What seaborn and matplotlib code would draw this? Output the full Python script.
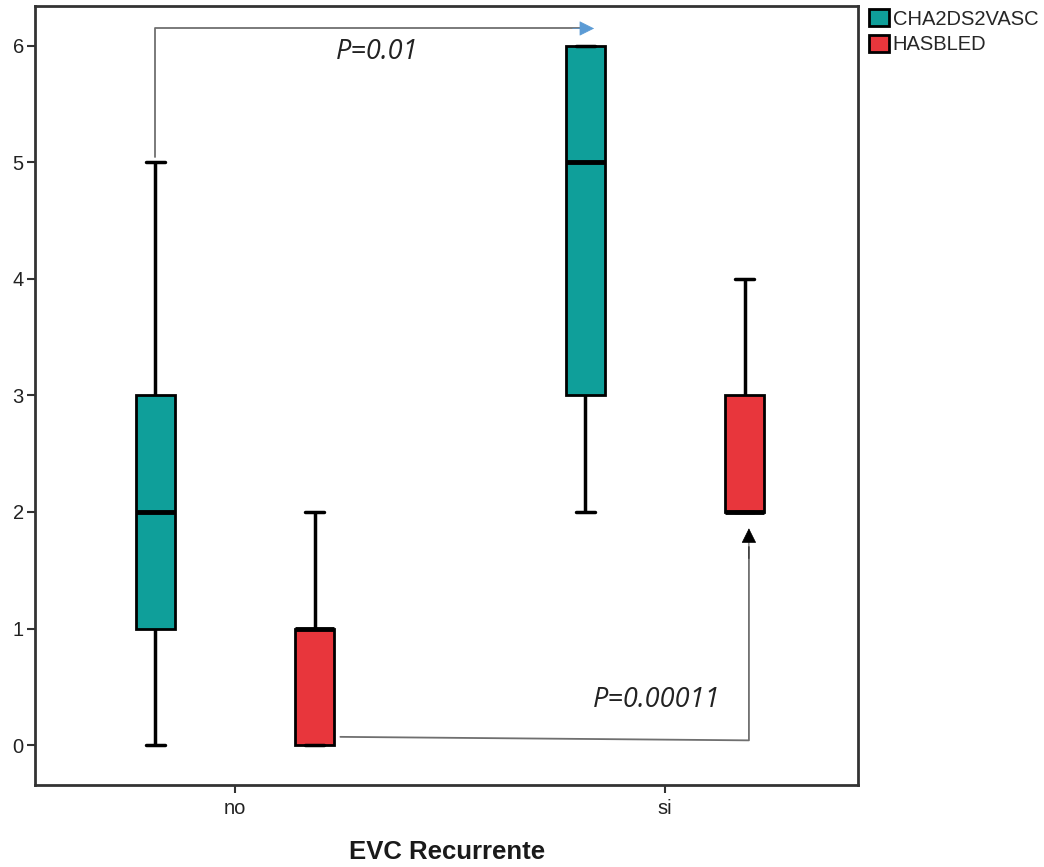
import numpy as np
import pandas as pd
import matplotlib
matplotlib.use("Agg")
import matplotlib.pyplot as plt
import seaborn as sns

# raw scores per group (chosen so quartiles/whiskers match the figure)
cha_no = [0, 1, 1, 2, 2, 2, 3, 3, 5]
has_no = [0, 0, 0, 1, 1, 1, 2]
cha_si = [2, 3, 3, 5, 5, 6, 6, 6, 6]
has_si = [2, 2, 2, 2, 3, 3, 4]

groups = ["no", "si"]
scores = ["CHA2DS2VASC", "HASBLED"]
palette = {"CHA2DS2VASC": "#0f9f9a", "HASBLED": "#e8363c"}

rows = []
for grp, score, vals in [("no", "CHA2DS2VASC", cha_no), ("no", "HASBLED", has_no),
                         ("si", "CHA2DS2VASC", cha_si), ("si", "HASBLED", has_si)]:
    for v in vals:
        rows.append({"EVC": grp, "score": score, "value": v})
df = pd.DataFrame(rows)

sns.set_style("white")
plt.rcParams["font.family"] = ["Liberation Sans", "DejaVu Sans"]

fig = plt.figure(figsize=(10.44, 8.67), dpi=100)
ax = fig.add_axes([0.0335, 0.0946, 0.7885, 0.8985])

sns.boxplot(
    data=df, x="EVC", y="value", hue="score", order=groups, hue_order=scores,
    palette=palette, width=0.74, gap=0.755, saturation=1, whis=1.5,
    linecolor="black", linewidth=2, fliersize=0, ax=ax,
    medianprops={"linewidth": 3.5},
    whiskerprops={"linewidth": 2.5},
    capprops={"linewidth": 2.5},
)

ax.set_xlim(-0.465, 1.449)
ax.set_ylim(-0.343, 6.343)
ax.set_yticks(range(7))
ax.set_xlabel("EVC Recurrente", fontsize=18.5, fontweight="bold", labelpad=16,
              color="#1a1a1a")
ax.set_ylabel("")
ax.tick_params(axis="both", labelsize=14.5, length=6, width=1.5, direction="out",
               color="#333333", labelcolor="#222222", left=True, bottom=True)
ax.tick_params(axis="y", pad=2)
ax.tick_params(axis="x", pad=4)
for s in ax.spines.values():
    s.set_color("#333333")
    s.set_linewidth(2)

# legend outside on the right
handles, labels = ax.get_legend_handles_labels()
ax.legend(handles, labels, loc="upper left", bbox_to_anchor=(1.01, 1.0),
          frameon=False, fontsize=14.5, handlelength=0.95, handleheight=0.95,
          handletextpad=0.2, labelspacing=0.3, borderaxespad=0.0,
          borderpad=0.15)

# significance annotations
off = 0.185
p_font = dict(fontsize=19.5, style="italic", family=["Open Sans", "DejaVu Sans"],
              color="#222222")
line_kw = dict(color="#6f6f6f", lw=1.3)

ax.plot([-off, -off, 1 - off], [5.05, 6.15, 6.15], **line_kw)
ax.annotate("", xy=(1 - off + 0.02, 6.15), xytext=(1 - off - 0.03, 6.15),
            arrowprops=dict(arrowstyle="-|>", lw=0.5, mutation_scale=24,
                            fc="#5b9bd5", ec="#5b9bd5", shrinkA=0, shrinkB=0))
ax.text(0.33, 5.95, "P=0.01", ha="center", va="center", **p_font)

ax.plot([off + 0.06, 1 + off + 0.01, 1 + off + 0.01], [0.07, 0.04, 1.7], **line_kw)
ax.annotate("", xy=(1 + off + 0.01, 1.86), xytext=(1 + off + 0.01, 1.6),
            arrowprops=dict(arrowstyle="-|>", lw=0.5, mutation_scale=24,
                            fc="black", ec="black", shrinkA=0, shrinkB=0))
ax.text(0.98, 0.39, "P=0.00011", ha="center", va="center", **p_font)

fig.savefig("out.png", dpi=100)
